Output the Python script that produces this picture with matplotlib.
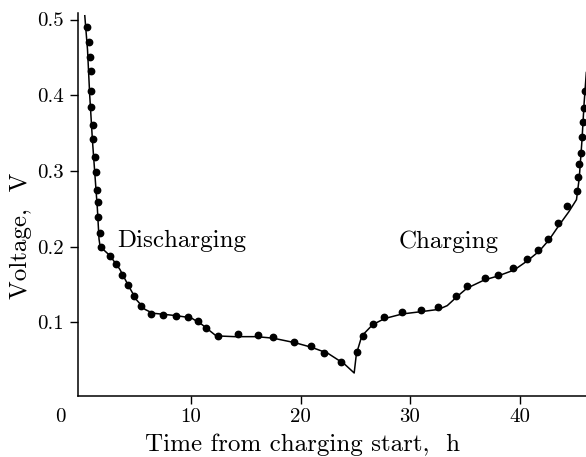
import matplotlib
matplotlib.use("Agg")
import matplotlib.pyplot as plt

plt.rcParams['font.family'] = ['cmr10', 'DejaVu Serif']
plt.rcParams['axes.formatter.use_mathtext'] = True

# measured points: time (h), voltage (V)
t_pts = [0.53, 0.66, 0.78, 0.84, 0.84, 0.84, 1.05, 1.05, 1.21, 1.35, 1.44, 1.51, 1.51,
         1.69, 1.78, 2.60, 3.18, 3.70, 4.22, 4.77, 5.46, 6.35, 7.42, 8.60, 9.70, 10.61,
         11.37, 12.44, 14.26, 16.09, 17.46, 19.41, 20.93, 22.17, 23.70,
         25.13, 25.68, 26.62, 27.65, 29.30, 30.98, 32.58, 34.17, 35.18, 36.82, 38.06, 39.43,
         40.66, 41.72, 42.63, 43.54, 44.31, 45.28, 45.37, 45.46, 45.59, 45.68, 45.77,
         45.92, 45.95]
v_pts = [0.490, 0.470, 0.450, 0.432, 0.405, 0.384, 0.361, 0.342, 0.319, 0.298, 0.275, 0.259, 0.239,
         0.218, 0.200, 0.187, 0.177, 0.163, 0.149, 0.135, 0.122, 0.111, 0.110, 0.108, 0.107, 0.102,
         0.092, 0.082, 0.084, 0.083, 0.080, 0.074, 0.068, 0.060, 0.047,
         0.061, 0.082, 0.098, 0.107, 0.114, 0.116, 0.120, 0.135, 0.148, 0.159, 0.163, 0.172,
         0.183, 0.196, 0.210, 0.231, 0.253, 0.273, 0.292, 0.309, 0.324, 0.345, 0.364,
         0.383, 0.405]

# model curve
t_fit = [0.30, 0.55, 0.75, 1.0, 1.25, 1.45, 1.6, 1.7, 2.6, 3.5, 4.3, 5.0, 5.8, 6.5, 8.5,
         10.0, 11.0, 12.3, 14.0, 16.0, 17.5, 19.5, 21.0, 22.5, 24.0, 24.9, 25.1, 25.6,
         26.6, 27.7, 29.3, 31.0, 32.6, 33.4, 34.3, 35.2, 36.8, 38.0, 39.5, 40.7, 41.8,
         42.7, 43.6, 44.5, 45.2, 45.45, 45.7, 45.9, 46.1]
v_fit = [0.505, 0.460, 0.400, 0.340, 0.290, 0.250, 0.210, 0.200, 0.188, 0.170, 0.148, 0.130,
         0.117, 0.112, 0.109, 0.106, 0.097, 0.082, 0.081, 0.081, 0.079, 0.073, 0.067, 0.059,
         0.045, 0.033, 0.058, 0.082, 0.097, 0.105, 0.111, 0.114, 0.117, 0.122, 0.134, 0.145,
         0.156, 0.161, 0.169, 0.181, 0.194, 0.209, 0.228, 0.246, 0.262, 0.290, 0.340, 0.390,
         0.430]

x_ticks = [10, 20, 30, 40]
y_ticks = [0.1, 0.2, 0.3, 0.4, 0.5]

fig = plt.figure(figsize=(5.86, 4.57), dpi=100)
ax = fig.add_axes([0.1331, 0.1335, 0.8669, 0.838])

ax.plot(t_fit, v_fit, color='black', lw=1.1)
ax.plot(t_pts, v_pts, 'o', color='black', ms=4.6)

ax.set_xlim(-0.32, 46.07)
ax.set_ylim(0.0026, 0.5086)
ax.set_xticks(x_ticks)
ax.set_yticks(y_ticks)
ax.set_xticklabels([str(x) for x in x_ticks])
ax.set_yticklabels(['%.1f' % y for y in y_ticks])
ax.tick_params(direction='out', length=6, width=1, labelsize=15)
ax.tick_params(axis='x', pad=3)
ax.tick_params(axis='y', pad=4)
for s in ['top', 'right']:
    ax.spines[s].set_visible(False)
for s in ['left', 'bottom']:
    ax.spines[s].set_linewidth(1.1)

# origin label at the corner
ax.text(-0.034, -0.055, '0', transform=ax.transAxes, fontsize=15, ha='center', va='center')
ax.text(3.24, 0.207, 'Discharging', fontsize=18, va='center')
ax.text(29.0, 0.207, 'Charging', fontsize=18, va='center')

ax.set_xlabel('Time from charging start,  h', fontsize=18)
ax.set_ylabel('Voltage,  V', fontsize=18)
ax.xaxis.set_label_coords(0.442, -0.097)
ax.yaxis.set_label_coords(-0.0906, 0.419)

fig.savefig('out.png', dpi=100)
